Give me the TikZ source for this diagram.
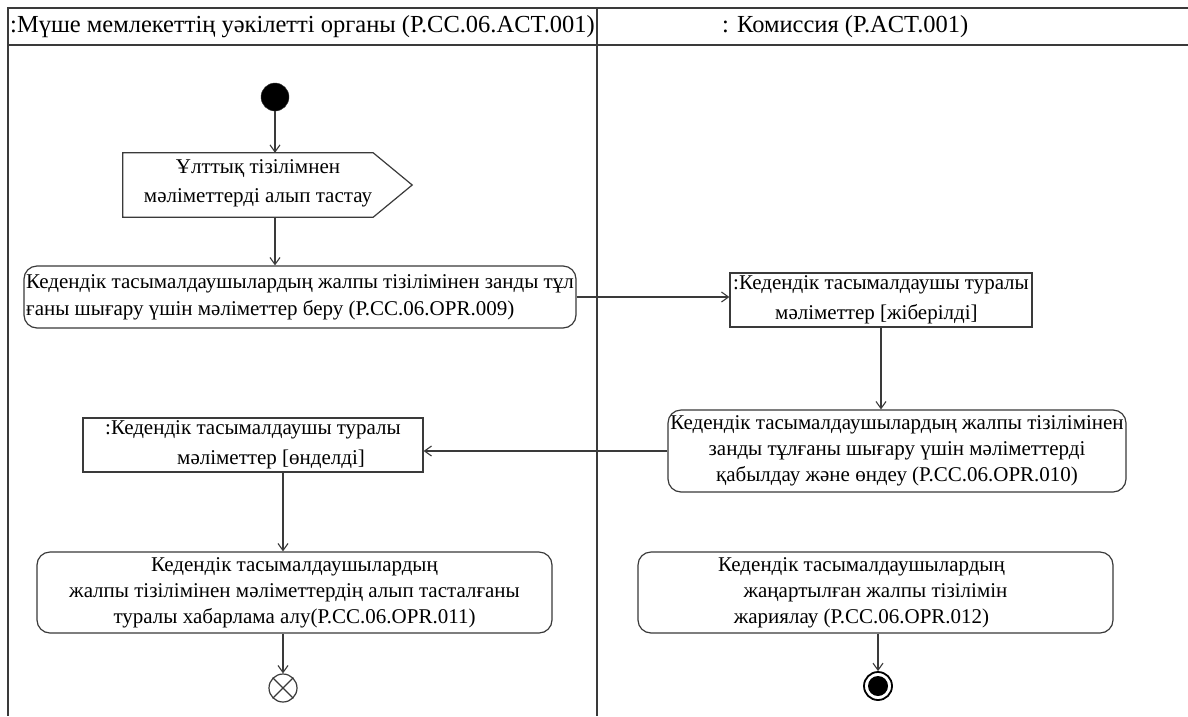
\documentclass[tikz,border=0pt]{standalone}
\usepackage{fontspec}
\setmainfont{Liberation Serif}
\usetikzlibrary{arrows.meta}
\definecolor{ln}{HTML}{3A3A3A}
\tikzset{
  every node/.style={font=\fontsize{21}{26}\selectfont, text=black},
  lane/.style={draw=ln, line width=1.2pt},
  action/.style={draw=ln, line width=1.2pt, rounded corners=13pt, inner sep=1pt, align=center},
  objbox/.style={draw=ln, line width=1.2pt, inner sep=1pt, align=left, font=\fontsize{21}{30}\selectfont},
  flow/.style={draw=ln, line width=1.1pt, -{Straight Barb[length=7pt,width=10pt]}},
  hdr/.style={font=\fontsize{24.5}{28}\selectfont, anchor=west, inner sep=0pt},
}
\begin{document}
\begin{tikzpicture}[x=1pt,y=-1pt]
\useasboundingbox[fill=white] (0,0) rectangle (1188,716);
% swimlanes
\draw[lane] (1188,8) -- (8,8) -- (8,716);
\draw[lane] (8,45) -- (1188,45);
\draw[lane] (597,8) -- (597,716);
\node[hdr] (h1) at (10,27) {:Мүше мемлекеттің уәкілетті органы (P.CC.06.ACT.001)};
\node[hdr] (h2) at (722,27) {: Комиссия (P.ACT.001)};
% start
\node[circle, fill=black, draw=ln, minimum size=28pt, inner sep=0pt] (start) at (275,97) {};
% send signal
\node[minimum width=289pt, minimum height=64pt, inner sep=0pt] (sig) at (267.5,185) {};
\draw[ln, line width=1.2pt] (sig.north west) -- ([xshift=-39pt]sig.north east) -- (sig.east)
  -- ([xshift=-39pt]sig.south east) -- (sig.south west) -- cycle;
\node[align=center, font=\fontsize{21}{29}\selectfont] (sigtxt) at (258,183) {Ұлттық тізілімнен\\мәліметтерді алып тастау};
% actions and objects
\node[action, align=left, font=\fontsize{21}{27}\selectfont, minimum width=552pt, minimum height=62pt] (act1) at (300,297)
  {Кедендік тасымалдаушылардың жалпы тізілімінен занды тұл\\ғаны шығару үшін мәліметтер беру (P.CC.06.OPR.009)};
\node[objbox, minimum width=302pt, minimum height=54pt] (obj1) at (881,300)
  {:Кедендік тасымалдаушы туралы\\\hspace*{42pt}мәліметтер [жіберілді]};
\node[action, minimum width=458pt, minimum height=82pt] (act2) at (897,451)
  {Кедендік тасымалдаушылардың жалпы тізілімінен\\занды тұлғаны шығару үшін мәліметтерді\\қабылдау және өндеу (P.CC.06.OPR.010)};
\node[objbox, minimum width=340pt, minimum height=54pt] (obj2) at (253,445)
  {:Кедендік тасымалдаушы туралы\\\hspace*{72pt}мәліметтер [өнделді]};
\node[action, minimum width=515pt, minimum height=81pt] (act3) at (294.5,592.5)
  {Кедендік тасымалдаушылардың\\жалпы тізілімінен мәліметтердің алып тасталғаны\\туралы хабарлама алу(P.CC.06.OPR.011)};
\node[action, minimum width=475pt, minimum height=81pt] (act4) at (875.5,592.5)
  {Кедендік тасымалдаушылардың\hspace*{28pt}\\жаңартылған жалпы тізілімін\hspace*{28pt}\\жариялау (P.CC.06.OPR.012)\hspace*{28pt}};
% ends
\node[circle, draw=ln, line width=1.2pt, minimum size=28pt, inner sep=0pt] (ff) at (283,688) {};
\draw[ln, line width=1.2pt] (ff.north east) -- (ff.south west) (ff.north west) -- (ff.south east);
\node[circle, draw=black, line width=1.8pt, minimum size=28pt, inner sep=0pt] (fin) at (878,686) {};
\node[circle, fill=black, minimum size=20pt, inner sep=0pt] (fincore) at (fin) {};
% flows
\draw[flow] (start) -- (start |- sig.north);
\draw[flow] (start |- sig.south) -- (start |- act1.north);
\draw[flow] (act1.east) -- (act1.east -| obj1.west);
\draw[flow] (obj1.south) -- (obj1.south |- act2.north);
\draw[flow] (act2.west) -- (act2.west -| obj2.east);
\draw[flow] (obj2.south -| ff) -- (act3.north -| ff);
\draw[flow] (act3.south -| ff) -- (ff.north);
\draw[flow] (act4.south -| fin) -- (fin.north);
\end{tikzpicture}
\end{document}
